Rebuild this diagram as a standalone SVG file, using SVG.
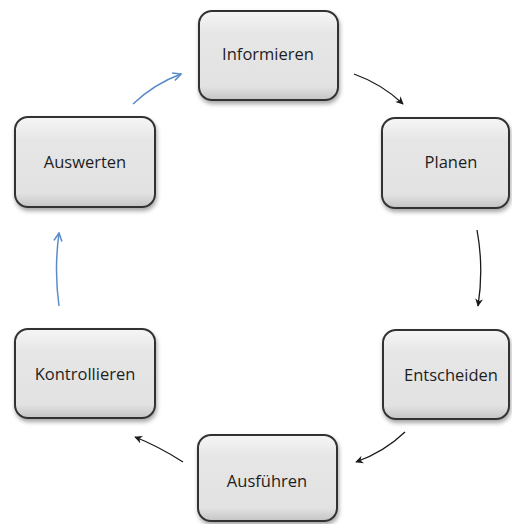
<svg xmlns="http://www.w3.org/2000/svg" width="512" height="524" viewBox="0 0 512 524">
<style>
.box{fill:url(#g);stroke:#333333;stroke-width:2;filter:url(#sh)}
.t{font-family:"Open Sans","Noto Sans",sans-serif;font-size:16.5px;fill:#1e1e1e;text-anchor:middle;dominant-baseline:central}
.k{fill:none;stroke:#1a1a1a;stroke-width:1.3;marker-end:url(#ak)}
.b{fill:none;stroke:#5b8cc8;stroke-width:1.5;marker-end:url(#ab)}
</style>
<defs>
<linearGradient id="g" x1="0" y1="0" x2="0" y2="1">
<stop offset="0" stop-color="#f6f6f6"/>
<stop offset="0.25" stop-color="#e6e6e6"/>
<stop offset="0.85" stop-color="#e2e2e2"/>
<stop offset="1" stop-color="#c4c4c4"/>
</linearGradient>
<filter id="sh" x="-10%" y="-10%" width="125%" height="130%">
<feDropShadow dx="1" dy="3" stdDeviation="2" flood-color="#000" flood-opacity="0.35"/>
</filter>
<marker id="ak" viewBox="0 0 10 10" refX="9" refY="5" markerWidth="8" markerHeight="8" orient="auto" markerUnits="userSpaceOnUse">
<path d="M0,0 L10,5 L0,10 L3,5 Z" fill="#1a1a1a"/>
</marker>
<marker id="ab" viewBox="0 0 10 10" refX="9" refY="5" markerWidth="10" markerHeight="10" orient="auto" markerUnits="userSpaceOnUse">
<path d="M1,1 L9,5 L1,9" fill="none" stroke="#5b8cc8" stroke-width="1.6"/>
</marker>
</defs>
<g id="connectors">
<path class="k" d="M354,74 Q382,84 403,104"/>
<path class="k" d="M477,230 Q484,268 478,306"/>
<path class="k" d="M405,432 Q384,452 356,462"/>
<path class="k" d="M183,462 Q158,446 135,437"/>
<path class="b" d="M59,306 Q54,270 59,233"/>
<path class="b" d="M133,104 Q154,84 181,74"/>
</g>
<g id="informieren">
<rect class="box" x="199" y="11" width="139" height="89" rx="13"/>
<text class="t" x="268" y="53">Informieren</text>
</g>
<g id="planen">
<rect class="box" x="382" y="118" width="127" height="90" rx="13"/>
<text class="t" x="451" y="161">Planen</text>
</g>
<g id="entscheiden">
<rect class="box" x="383" y="330" width="126" height="89" rx="13"/>
<text class="t" x="451" y="374">Entscheiden</text>
</g>
<g id="ausfuehren">
<rect class="box" x="198" y="435" width="139" height="86" rx="13"/>
<text class="t" x="267" y="480">Ausführen</text>
</g>
<g id="kontrollieren">
<rect class="box" x="15" y="329" width="140" height="89" rx="13"/>
<text class="t" x="85" y="373">Kontrollieren</text>
</g>
<g id="auswerten">
<rect class="box" x="15" y="117" width="140" height="90" rx="13"/>
<text class="t" x="85" y="161">Auswerten</text>
</g>
</svg>
